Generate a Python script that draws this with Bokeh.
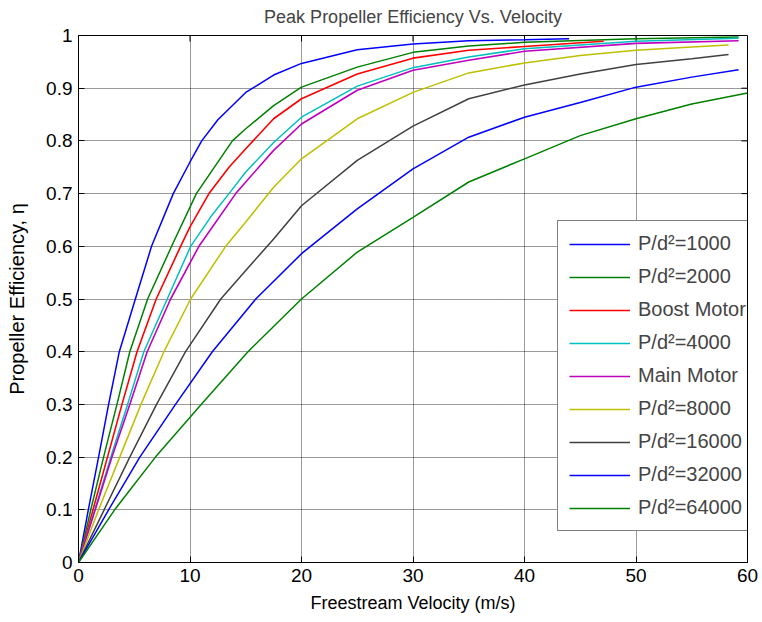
import math
from bokeh.plotting import figure
from bokeh.models import Legend, LegendItem, Range1d
from bokeh.embed import file_html
from bokeh.resources import INLINE

# ---------------- data ----------------
title_text = "Peak Propeller Efficiency Vs. Velocity"
labels = ["P/d\u00b2=1000", "P/d\u00b2=2000", "Boost Motor", "P/d\u00b2=4000", "Main Motor",
          "P/d\u00b2=8000", "P/d\u00b2=16000", "P/d\u00b2=32000", "P/d\u00b2=64000"]

s1000_x = [0, 0.88, 1.8, 2.7, 3.66, 5.1, 6.55, 8.5, 10, 11.05, 12.5, 15, 17.5, 20, 25, 30, 35, 40, 44]
s1000_y = [0, 0.1, 0.2, 0.3, 0.4, 0.5, 0.6, 0.7, 0.76, 0.8, 0.84, 0.892, 0.925, 0.947, 0.973, 0.984, 0.99, 0.992, 0.994]

s2000_x = [0, 1.1, 2.25, 3.45, 4.6, 6.2, 8.35, 10.57, 13.8, 15, 17.5, 20, 25, 30, 35, 40, 50, 59.2]
s2000_y = [0, 0.1, 0.2, 0.3, 0.4, 0.5, 0.6, 0.7, 0.8, 0.823, 0.867, 0.902, 0.94, 0.968, 0.98, 0.987, 0.994, 0.997]

boost_x = [0, 1.3, 2.6, 3.9, 5.25, 6.97, 9.16, 10, 11.7, 13.5, 15, 17.5, 20, 25, 30, 35, 40, 47.1]
boost_y = [0, 0.1, 0.2, 0.3, 0.4, 0.5, 0.6, 0.637, 0.7, 0.75, 0.785, 0.842, 0.88, 0.927, 0.957, 0.972, 0.979, 0.989]

s4000_x = [0, 1.46, 2.9, 4.4, 5.86, 7.96, 10.06, 12, 13.5, 15, 17.5, 20, 25, 30, 35, 40, 50, 59.2]
s4000_y = [0, 0.1, 0.2, 0.3, 0.4, 0.5, 0.6, 0.66, 0.7, 0.741, 0.797, 0.845, 0.904, 0.939, 0.959, 0.975, 0.989, 0.995]

main_x = [0, 1.5, 3.0, 4.6, 6.16, 8.26, 10.8, 14.1, 15, 17.5, 20, 25, 30, 35, 40, 50, 59.2]
main_y = [0, 0.1, 0.2, 0.3, 0.4, 0.5, 0.6, 0.7, 0.722, 0.782, 0.832, 0.896, 0.934, 0.953, 0.97, 0.985, 0.99]

s8000_x = [0, 1.8, 3.7, 5.6, 7.66, 10.06, 13.2, 15, 17.5, 20, 25, 30, 35, 40, 45, 50, 55, 58.3]
s8000_y = [0, 0.1, 0.2, 0.3, 0.4, 0.5, 0.6, 0.646, 0.712, 0.766, 0.842, 0.892, 0.929, 0.948, 0.962, 0.972, 0.978, 0.982]

s16000_x = [0, 2.3, 4.6, 7.0, 9.6, 12.76, 15, 17.5, 20, 25, 30, 35, 40, 45, 50, 55, 58.3]
s16000_y = [0, 0.1, 0.2, 0.3, 0.4, 0.5, 0.554, 0.614, 0.677, 0.763, 0.828, 0.88, 0.906, 0.927, 0.945, 0.956, 0.964]

s32000_x = [0, 2.7, 5.5, 8.7, 12.0, 15.9, 20, 25, 30, 35, 40, 45, 50, 55, 59.2]
s32000_y = [0, 0.1, 0.2, 0.3, 0.4, 0.5, 0.586, 0.671, 0.747, 0.807, 0.845, 0.873, 0.902, 0.921, 0.935]

s64000_x = [0, 3.24, 6.9, 11.0, 15.2, 20, 25, 30, 35, 40, 45, 50, 55, 60]
s64000_y = [0, 0.1, 0.2, 0.3, 0.4, 0.5, 0.589, 0.655, 0.722, 0.766, 0.81, 0.842, 0.87, 0.891]

x_ticks = [0, 10, 20, 30, 40, 50, 60]
y_ticks = [0, 0.1, 0.2, 0.3, 0.4, 0.5, 0.6, 0.7, 0.8, 0.9, 1.0]

series = [(s1000_x, s1000_y), (s2000_x, s2000_y), (boost_x, boost_y), (s4000_x, s4000_y),
          (main_x, main_y), (s8000_x, s8000_y), (s16000_x, s16000_y), (s32000_x, s32000_y),
          (s64000_x, s64000_y)]

# ---------------- style ----------------
colors = ["#0000ff", "#008000", "#ff0000", "#00bfbf", "#bf00bf", "#bfbf00", "#404040", "#0000ff", "#008000"]
widths = [1.5, 1.5, 1.6, 1.5, 1.6, 1.5, 1.5, 1.5, 1.5]
FONT = "Liberation Sans"

p = figure(width=762, height=622, output_backend="svg", toolbar_location=None,
           x_range=Range1d(0, 60), y_range=Range1d(0, 1),
           title=title_text,
           x_axis_label="Freestream Velocity (m/s)",
           y_axis_label="Propeller Efficiency, \u03b7",
           min_border_left=78, min_border_right=15, min_border_top=35, min_border_bottom=60)

p.title.align = "center"
p.title.vertical_align = "top"
p.title.text_font = FONT
p.title.text_font_size = "18px"
p.title.text_font_style = "normal"
p.title.standoff = 13

p.outline_line_color = "black"
p.outline_line_width = 1
p.background_fill_color = "white"
p.border_fill_color = "white"

for ax in (p.xaxis[0], p.yaxis[0]):
    ax.major_label_text_font = FONT
    ax.major_label_text_font_size = "19px"
    ax.axis_label_text_font = FONT
    ax.axis_label_text_font_size = "18px"
    ax.axis_label_text_font_style = "normal"
    ax.major_tick_in = 6
    ax.major_tick_out = 0
    ax.minor_tick_line_color = None
    ax.axis_line_color = "black"
    ax.major_tick_line_color = "black"
    ax.major_label_text_color = "black"
    ax.axis_label_text_color = "black"

p.yaxis[0].axis_label_text_font_size = "20px"
p.xaxis[0].ticker = x_ticks
p.yaxis[0].ticker = y_ticks
p.yaxis[0].major_label_overrides = {0: "0", 1: "1"}
p.xaxis[0].major_label_standoff = 6
p.yaxis[0].major_label_standoff = 6
p.xaxis[0].axis_label_standoff = 8
p.yaxis[0].axis_label_standoff = 15

p.xgrid.ticker = x_ticks
p.ygrid.ticker = y_ticks
for g in (p.xgrid[0], p.ygrid[0]):
    g.grid_line_color = "black"
    g.grid_line_dash = "1 1"
    g.grid_line_alpha = 0.8
    g.grid_line_width = 1

# inner ticks on the top and right edges of the box
p.ray(x=x_ticks, y=1, length=6, angle=-math.pi / 2, length_units="screen",
      line_color="black", line_width=1)
p.ray(x=60, y=y_ticks, length=6, angle=math.pi, length_units="screen",
      line_color="black", line_width=1)

items = []
for (xs, ys), c, w, lab in zip(series, colors, widths, labels):
    r = p.line(xs, ys, line_color=c, line_width=w)
    items.append(LegendItem(label=lab, renderers=[r]))

legend = Legend(items=items, location=(479, 31),
                label_text_font=FONT, label_text_font_size="20px",
                glyph_width=61, glyph_height=22, label_height=22, label_standoff=8,
                label_width=118, spacing=10, padding=11, margin=0,
                border_line_color="black", border_line_width=1,
                background_fill_color="white", background_fill_alpha=1)
p.add_layout(legend, "center")

open("out.html", "w").write(file_html(p, INLINE))
